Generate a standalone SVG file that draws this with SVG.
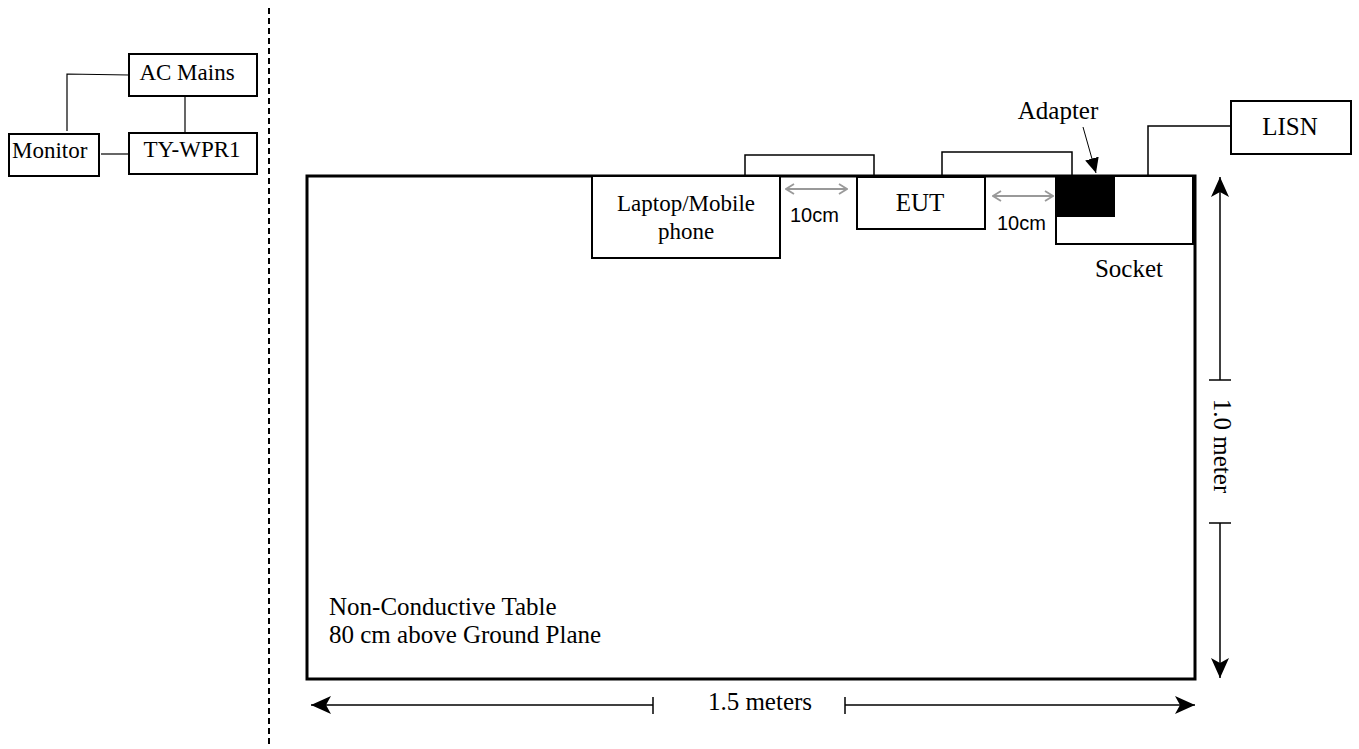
<svg xmlns="http://www.w3.org/2000/svg" width="1359" height="749" viewBox="0 0 1359 749">
<defs>
<style>
.box{fill:#fff;stroke:#000;stroke-width:2}
.wire{fill:none;stroke:#000;stroke-width:1.5}
.thin{fill:none;stroke:#000;stroke-width:1.2}
.t{font-family:"Liberation Serif","Times New Roman",serif;font-size:25px;fill:#000}
.ts{font-family:"Liberation Serif","Times New Roman",serif;font-size:23px;fill:#000}
.a{font-family:"Liberation Sans",Arial,sans-serif;font-size:20px;fill:#000}
.gray{fill:none;stroke:#999;stroke-width:1.8}
.dim{fill:none;stroke:#000;stroke-width:1.5}
</style>
<marker id="stealth" viewBox="0 0 20 20" refX="20" refY="10" markerWidth="20" markerHeight="20" markerUnits="userSpaceOnUse" orient="auto-start-reverse">
<path d="M0,1 L20,10 L0,19 L5,10 Z" fill="#000"/>
</marker>
<marker id="chev" viewBox="0 0 10 12" refX="9" refY="6" markerWidth="10" markerHeight="12" markerUnits="userSpaceOnUse" orient="auto-start-reverse">
<path d="M1,1 L9,6 L1,11" fill="none" stroke="#999" stroke-width="1.8"/>
</marker>
<marker id="tri" viewBox="0 0 15 14" refX="15" refY="7" markerWidth="15" markerHeight="14" markerUnits="userSpaceOnUse" orient="auto">
<path d="M0,0 L15,7 L0,14 Z" fill="#000"/>
</marker>
</defs>
<rect width="1359" height="749" fill="#fff"/>

<!-- divider -->
<line x1="269" y1="8" x2="269" y2="748" stroke="#000" stroke-width="2" stroke-dasharray="6,4"/>

<!-- table -->
<g id="table">
<rect x="307" y="176" width="888" height="503" fill="none" stroke="#000" stroke-width="3"/>
<text class="t" x="329" y="615">Non-Conductive Table</text>
<text class="t" x="329" y="643">80 cm above Ground Plane</text>
</g>

<g id="connectors">
<polyline class="thin" points="67,131 67,74 129,75"/>
<line class="thin" x1="185" y1="96" x2="185" y2="133"/>
<line class="thin" x1="101" y1="154" x2="129" y2="154"/>
<polyline class="wire" points="745,176 745,155 874,155 874,177"/>
<polyline class="wire" points="942,176 942,152 1072,152 1072,176"/>
<polyline class="wire" points="1148,176 1148,126 1231,126"/>
<line x1="1083" y1="127" x2="1096" y2="173" stroke="#000" stroke-width="1" marker-end="url(#tri)"/>
<line class="gray" x1="786" y1="189" x2="847" y2="189" marker-start="url(#chev)" marker-end="url(#chev)"/>
<line class="gray" x1="993" y1="196" x2="1053" y2="196" marker-start="url(#chev)" marker-end="url(#chev)"/>
<!-- dimensions -->
<line class="dim" x1="653" y1="705" x2="311" y2="705" marker-end="url(#stealth)"/>
<line class="dim" x1="653" y1="697" x2="653" y2="714"/>
<line class="dim" x1="845" y1="705" x2="1195" y2="705" marker-end="url(#stealth)"/>
<line class="dim" x1="845" y1="697" x2="845" y2="714"/>
<line class="dim" x1="1220" y1="380" x2="1220" y2="177" marker-end="url(#stealth)"/>
<line class="dim" x1="1209" y1="380" x2="1231" y2="380"/>
<line class="dim" x1="1220" y1="523" x2="1220" y2="678" marker-end="url(#stealth)"/>
<line class="dim" x1="1209" y1="523" x2="1231" y2="523"/>
</g>
<text class="t" x="760" y="710" text-anchor="middle">1.5 meters</text>
<text class="t" x="0" y="0" text-anchor="middle" transform="translate(1214,446) rotate(90)">1.0 meter</text>
<text class="a" x="790" y="222">10cm</text>
<text class="a" x="997" y="230">10cm</text>

<g id="ac-mains">
<rect class="box" x="129" y="54" width="128" height="42"/>
<text class="ts" x="187" y="80" text-anchor="middle">AC Mains</text>
</g>
<g id="ty-wpr1">
<rect class="box" x="129" y="133" width="128" height="41"/>
<text class="ts" x="192" y="157" text-anchor="middle">TY-WPR1</text>
</g>
<g id="monitor">
<rect class="box" x="9" y="134" width="90" height="42"/>
<text class="ts" x="12" y="158">Monitor</text>
</g>

<g id="laptop">
<rect class="box" x="592" y="176" width="188" height="82"/>
<text class="ts" x="686" y="211" text-anchor="middle">Laptop/Mobile</text>
<text class="ts" x="686" y="239" text-anchor="middle">phone</text>
</g>
<g id="eut">
<rect class="box" x="857" y="177" width="128" height="52"/>
<text class="t" x="920" y="211" text-anchor="middle">EUT</text>
</g>
<g id="socket">
<rect class="box" x="1056" y="176" width="137" height="68"/>
<text class="t" x="1129" y="277" text-anchor="middle">Socket</text>
</g>
<g id="adapter">
<rect x="1056" y="176" width="59" height="41" fill="#000"/>
<text class="t" x="1058" y="119" text-anchor="middle">Adapter</text>
</g>
<g id="lisn">
<rect class="box" x="1231" y="101" width="120" height="53"/>
<text class="t" x="1290" y="135" text-anchor="middle">LISN</text>
</g>
</svg>
